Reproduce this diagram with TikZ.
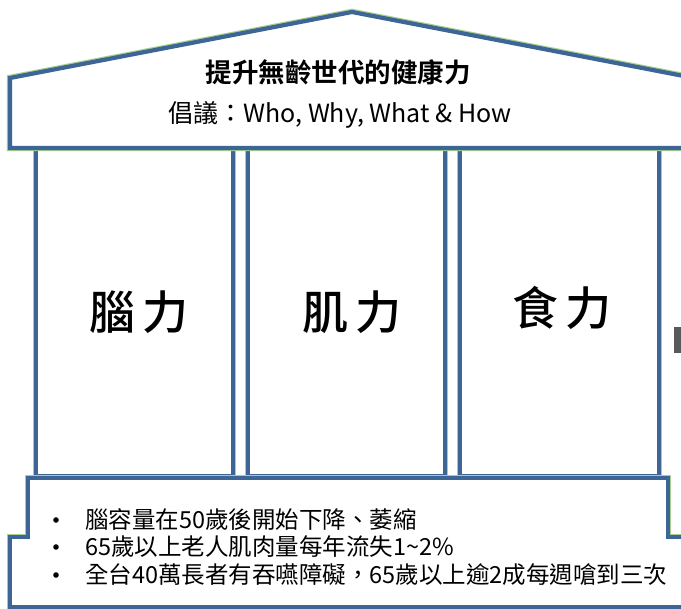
\documentclass[tikz,border=0pt]{standalone}
\usepackage{fontspec}
\setmainfont{Noto Sans CJK TC}[BoldFont={Noto Sans CJK TC Bold}]
\newfontfamily\medfont{Noto Sans CJK TC Medium}
\definecolor{frameblue}{HTML}{3D6595}
\definecolor{glowgreen}{HTML}{A9D18E}
\definecolor{tabgray}{HTML}{595959}
\tikzset{
  glow/.style={draw=glowgreen, line width=6.5pt, line join=miter},
  frame/.style={draw=frameblue, fill=white, line width=4.2pt, line join=miter},
  pillartext/.style={font=\medfont\fontsize{46}{50}\selectfont, text=black},
  bullettext/.style={font=\fontsize{23.5}{27}\selectfont, anchor=west, inner sep=0pt},
}
\begin{document}
\begin{tikzpicture}[x=1pt,y=-1pt]
\useasboundingbox (0,0) rectangle (681,609);
\clip (0,0) rectangle (681,609);
\fill[white] (0,0) rectangle (681,609);
% pillars
\foreach \a/\b in {36/233, 248/445, 460/659}{
  \path[glow] (\a,148) rectangle (\b,476);
  \path[frame] (\a,148) rectangle (\b,476);
}
% roof / header
\path[glow] (10,148) -- (10,78) -- (352,12) -- (694,78) -- (694,148) -- cycle;
\path[frame] (10,148) -- (10,78) -- (352,12) -- (694,78) -- (694,148) -- cycle;
% base
\path[glow] (28,478) -- (668,478) -- (668,537) -- (694,537) -- (694,607) -- (10,607) -- (10,537) -- (28,537) -- cycle;
\path[frame] (28,478) -- (668,478) -- (668,537) -- (694,537) -- (694,607) -- (10,607) -- (10,537) -- (28,537) -- cycle;
% gray tab
\fill[tabgray] (674,327) rectangle (681,353);
% texts
\node[font=\bfseries\fontsize{26.5}{30}\selectfont] (title) at (338,72) {提升無齡世代的健康力};
\node[font=\fontsize{25}{28}\selectfont] (sub) at (340,115) {倡議：Who, Why, What \& How};
\node[pillartext] (p1) at (139,312) {腦\,力};
\node[pillartext] (p2) at (352,312) {肌\,力};
\node[pillartext] (p3) at (562,308) {食\,力};
\node[bullettext] (b1) at (85,520) {腦容量在50歲後開始下降、萎縮};
\node[bullettext] (b2) at (85,547) {65歲以上老人肌肉量每年流失1\textasciitilde 2\%};
\node[bullettext] (b3) at (85,575) {全台40萬長者有吞嚥障礙，65歲以上逾2成每週嗆到三次};
\foreach \y/\n in {520/d1,547/d2,575/d3}{
  \fill (56,\y) circle (2.8pt);
  \coordinate (\n) at (56,\y);
}
\end{tikzpicture}
\end{document}
